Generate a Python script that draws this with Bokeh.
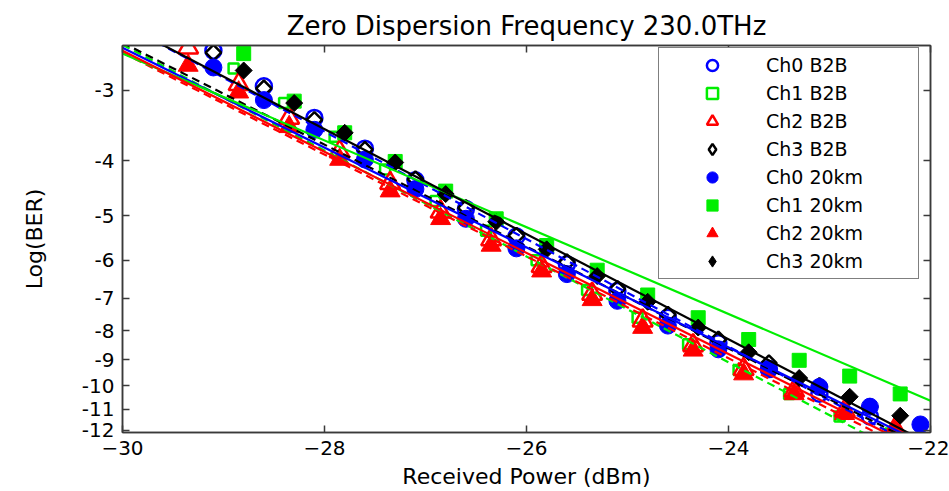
import numpy as np
from bokeh.plotting import figure
from bokeh.models import (Range1d, FixedTicker, CustomJSTickFormatter, LinearAxis,
                          Legend, LegendItem)
from bokeh.embed import file_html
from bokeh.resources import INLINE

# ---------------- data ----------------
title_text = "Zero Dispersion Frequency 230.0THz"
x_label = "Received Power (dBm)"
y_label = "Log(BER)"
x_ticks = [-30, -28, -26, -24, -22]
y_tick_logber = [-3, -4, -5, -6, -7, -8, -9, -10, -11, -12]
x_limits = [-30, -22]
y_limits_logber = [-12.1, -2.5]

# Ch0 (blue)
ch0_x = [-29.1, -28.6, -28.1, -27.6, -27.1, -26.6, -26.1, -25.6, -25.1, -24.6,
         -24.1, -23.6, -23.1, -22.6, -22.1]
ch0_b2b = [-2.553, -2.952, -3.358, -3.806, -4.329, -4.865, -5.445, -6.095, -6.795,
           -7.578, -8.415, -9.346, -10.33, -11.34]
ch0_20km = [-2.734, -3.123, -3.525, -3.978, -4.488, -5.065, -5.714, -6.346, -7.075,
            -7.827, -8.622, -9.347, -10.05, -10.89, -11.71]

# Ch1 (green)
ch1_b2b_x = [-28.9, -28.4, -27.9, -27.4, -26.9, -26.4, -25.9, -25.4, -24.9, -24.4,
             -23.9, -23.4, -22.9, -22.4]
ch1_b2b = [-2.745, -3.161, -3.626, -4.142, -4.711, -5.316, -5.997, -6.768, -7.578,
           -8.449, -9.384, -10.34, -11.34, -12.15]
ch1_20km_x = [-28.8, -28.3, -27.8, -27.3, -26.8, -26.3, -25.8, -25.3, -24.8, -24.3,
              -23.8, -23.3, -22.8, -22.3]
ch1_20km = [-2.584, -3.136, -3.568, -4.010, -4.525, -5.066, -5.648, -6.246, -6.910,
            -7.580, -8.284, -9.016, -9.616, -10.34]

# Ch2 (red)
ch2_x = [-29.35, -28.85, -28.35, -27.85, -27.35, -26.85, -26.35, -25.85, -25.35,
         -24.85, -24.35, -23.85, -23.35, -22.85, -22.35]
ch2_b2b = [-2.522, -2.928, -3.358, -3.852, -4.381, -4.924, -5.511, -6.144, -6.878,
           -7.670, -8.484, -9.346, -10.21, -11.07, -11.91]
ch2_20km = [-2.712, -3.024, -3.482, -3.978, -4.525, -5.065, -5.646, -6.270, -7.047,
            -7.890, -8.656, -9.537, -10.34, -11.21, -11.95]

# Ch3 (black)
ch3_b2b_x = [-29.1, -28.6, -28.1, -27.6, -27.1, -26.6, -26.1, -25.6, -25.1, -24.6,
             -24.1, -23.6, -23.1, -22.6]
ch3_b2b = [-2.574, -2.976, -3.385, -3.821, -4.311, -4.846, -5.424, -6.046, -6.740,
           -7.487, -8.281, -9.122, -10.01, -10.89]
ch3_20km_x = [-28.8, -28.3, -27.8, -27.3, -26.8, -26.3, -25.8, -25.3, -24.8, -24.3,
              -23.8, -23.3, -22.8, -22.3]
ch3_20km = [-2.768, -3.161, -3.568, -4.027, -4.580, -5.127, -5.737, -6.397, -7.104,
            -7.890, -8.726, -9.691, -10.46, -11.30]

# linear fits (log BER at x = -30 and x = -22)
fit_x = [-30, -22]
fit_ch0_b2b = [-2.29, -13.22]
fit_ch1_b2b = [-2.492, -13.99]
fit_ch2_b2b = [-2.574, -13.54]
fit_ch3_b2b = [-2.472, -13.01]
fit_ch0_20km = [-2.522, -12.85]
fit_ch1_20km = [-2.584, -10.63]
fit_ch2_20km = [-2.553, -13.27]
fit_ch3_20km = [-2.290, -12.70]

legend_labels = ["Ch0 B2B", "Ch1 B2B", "Ch2 B2B", "Ch3 B2B",
                 "Ch0 20km", "Ch1 20km", "Ch2 20km", "Ch3 20km"]


def tr(vals):
    """BER-plot transform: y = -log10(-log10(BER))"""
    return (-np.log10(-np.asarray(vals, dtype=float))).tolist()


FONT = "DejaVu Sans"
BLUE, GREEN, RED, BLACK = "#0000FF", "#00EE00", "#FF0000", "#000000"
AX = "#3a3a3a"

p = figure(width=949, height=491, output_backend="svg", toolbar_location=None,
           x_range=Range1d(*x_limits),
           y_range=Range1d(tr([y_limits_logber[0]])[0], tr([y_limits_logber[1]])[0]),
           min_border_left=122, min_border_right=19, min_border_top=45,
           min_border_bottom=55)
p.title.text = title_text
p.title.text_font = FONT
p.title.text_font_size = "26px"
p.title.text_font_style = "normal"
p.title.text_color = "black"
p.title.align = "center"
p.xgrid.visible = False
p.ygrid.visible = False
p.outline_line_color = AX
p.outline_line_width = 1.5
p.background_fill_color = "white"
p.border_fill_color = "white"

yticks = tr(y_tick_logber)
yfmt = CustomJSTickFormatter(code="return '-' + Math.round(Math.pow(10, -tick)).toString();")
empty = CustomJSTickFormatter(code="return '';")


def style_axis(ax):
    ax.axis_line_color = AX
    ax.axis_line_width = 1.5
    ax.major_tick_line_color = AX
    ax.major_tick_line_width = 1.5
    ax.major_tick_in = 7
    ax.major_tick_out = 0
    ax.minor_tick_line_color = None
    ax.major_label_text_font = FONT
    ax.major_label_text_font_size = "20px"
    ax.major_label_text_color = "black"
    ax.axis_label_text_font = FONT
    ax.axis_label_text_font_size = "22px"
    ax.axis_label_text_font_style = "normal"
    ax.axis_label_text_color = "black"


xa = p.xaxis[0]
xa.ticker = FixedTicker(ticks=x_ticks)
xa.axis_label = x_label
xa.major_label_standoff = 8
xa.axis_label_standoff = 6
style_axis(xa)

ya = p.yaxis[0]
ya.ticker = FixedTicker(ticks=yticks)
ya.formatter = yfmt
ya.axis_label = y_label
ya.major_label_standoff = 8
ya.axis_label_standoff = 32
style_axis(ya)

top = LinearAxis(ticker=FixedTicker(ticks=x_ticks), formatter=empty)
style_axis(top)
top.major_label_standoff = 0
p.add_layout(top, "above")
right = LinearAxis(ticker=FixedTicker(ticks=yticks), formatter=empty)
style_axis(right)
right.major_label_standoff = 0
p.add_layout(right, "right")

# ---------------- markers ----------------
r0b = p.scatter(ch0_x[:len(ch0_b2b)], tr(ch0_b2b), marker="circle", size=16,
                fill_color=None, line_color=BLUE, line_width=2.5)
r1b = p.scatter(ch1_b2b_x, tr(ch1_b2b), marker="square", size=10,
                fill_color=None, line_color=GREEN, line_width=2.5)
r2b = p.scatter(ch2_x, tr(ch2_b2b), marker="triangle", size=20,
                fill_color=None, line_color=RED, line_width=2.5)
r3b = p.scatter(ch3_b2b_x, tr(ch3_b2b), marker="square", angle=np.pi / 4, size=11,
                fill_color=None, line_color=BLACK, line_width=2.5)
r0k = p.scatter(ch0_x, tr(ch0_20km), marker="circle", size=17,
                fill_color=BLUE, line_color=BLUE)
r1k = p.scatter(ch1_20km_x, tr(ch1_20km), marker="square", size=14,
                fill_color=GREEN, line_color=GREEN)
r2k = p.scatter(ch2_x, tr(ch2_20km), marker="triangle", size=20,
                fill_color=RED, line_color=RED)
r3k = p.scatter(ch3_20km_x, tr(ch3_20km), marker="square", angle=np.pi / 4, size=12,
                fill_color=BLACK, line_color=BLACK)

# legend-only glyphs for the diamonds (legend ignores marker angle)
d3b = p.scatter([float("nan")], [float("nan")], marker="diamond", size=14,
                fill_color=None, line_color=BLACK, line_width=2.5)
d3k = p.scatter([float("nan")], [float("nan")], marker="diamond", size=14,
                fill_color=BLACK, line_color=BLACK)

# ---------------- fitted lines ----------------
for ys, c, dash in [(fit_ch0_b2b, BLUE, "8 5"), (fit_ch1_b2b, GREEN, "8 5"),
                    (fit_ch2_b2b, RED, "8 5"), (fit_ch3_b2b, BLACK, "8 5"),
                    (fit_ch0_20km, BLUE, "solid"), (fit_ch1_20km, GREEN, "solid"),
                    (fit_ch2_20km, RED, "solid"), (fit_ch3_20km, BLACK, "solid")]:
    p.line(fit_x, tr(ys), line_color=c, line_width=2.2, line_dash=dash)

# ---------------- legend ----------------
rends = [r0b, r1b, r2b, d3b, r0k, r1k, r2k, d3k]
legend = Legend(items=[LegendItem(label=l, renderers=[r]) for l, r in zip(legend_labels, rends)],
                location=(536, 153), orientation="vertical",
                padding=3, margin=0, spacing=0,
                glyph_width=100, glyph_height=28, label_standoff=4,
                label_width=149, label_height=20,
                label_text_font=FONT, label_text_font_size="19px",
                label_text_color="black",
                border_line_color="black", border_line_width=1,
                background_fill_color="white", background_fill_alpha=1.0)
p.add_layout(legend)

open("out.html", "w").write(file_html(p, INLINE))
